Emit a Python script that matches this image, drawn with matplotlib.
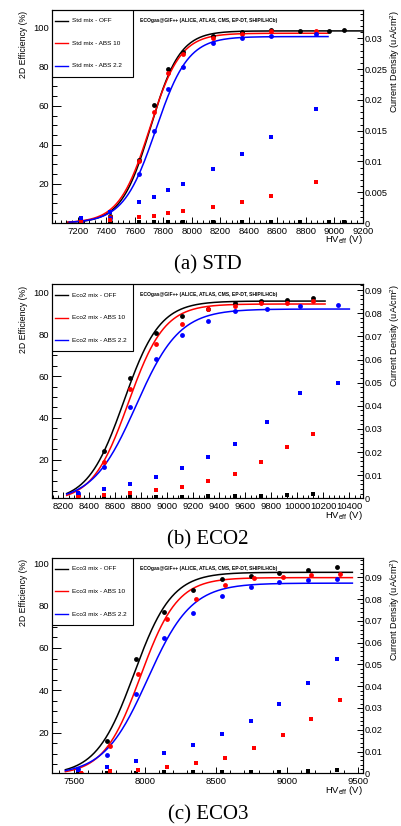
import numpy as np
import matplotlib
matplotlib.use('Agg')
import matplotlib.pyplot as plt
from matplotlib.ticker import MultipleLocator, FixedLocator
from matplotlib.patches import Rectangle
from matplotlib.lines import Line2D

plt.rcParams['font.family'] = ['Liberation Sans', 'DejaVu Sans']
plt.rcParams['mathtext.fontset'] = 'custom'
plt.rcParams['mathtext.rm'] = 'Liberation Sans'

title = 'ECOgas@GIF++ (ALICE, ATLAS, CMS, EP-DT, SHIP/LHCb)'
conds = ['OFF', 'ABS 10', 'ABS 2.2']
colors = ['black', '#ff0000', '#0000ff']

# ---- (a) STD ----
std_hv_off = [7220, 7425, 7630, 7735, 7835, 7940, 8150, 8350, 8555, 8760, 8965, 9070]
std_hv_abs = [7220, 7425, 7630, 7735, 7835, 7940, 8150, 8350, 8555, 8870]
std_eff_off = [0.5, 3.5, 32.0, 60.2, 78.9, 87.7, 95.5, 97.6, 98.8, 98.5, 98.5, 98.8]
std_eff_abs10 = [0.3, 3.0, 31.6, 56.8, 77.0, 86.4, 94.5, 96.8, 98.0, 98.0]
std_eff_abs22 = [0.3, 2.5, 25.3, 46.9, 68.5, 79.7, 92.0, 94.9, 95.9, 96.6]
std_cur_off = [0.0001, 0.0001, 0.0001, 0.0001, 0.0001, 0.0001, 0.0001, 0.0001, 0.0001, 0.0001, 0.0001, 0.0001]
std_cur_abs10 = [0.0001, 0.0005, 0.0010, 0.0012, 0.0016, 0.0019, 0.0026, 0.0034, 0.0044, 0.0066]
std_cur_abs22 = [0.0008, 0.0018, 0.0034, 0.0043, 0.0053, 0.0064, 0.0087, 0.0112, 0.0139, 0.0185]
# fit: plateau, slope, HV50, curve start, curve end
std_fit_off = [98.3, 0.0097, 7711, 7130, 9210]
std_fit_abs10 = [97.1, 0.0093, 7705, 7130, 8956]
std_fit_abs22 = [95.4, 0.0088, 7747, 7140, 8956]

# ---- (b) ECO2 ----
eco2_hv_off = [8310, 8510, 8710, 8910, 9115, 9315, 9520, 9720, 9920, 10120]
eco2_hv_abs22 = [8310, 8510, 8710, 8910, 9115, 9315, 9520, 9770, 10020, 10310]
eco2_eff_off = [3.0, 24.0, 59.0, 80.5, 88.5, 92.0, 95.0, 95.8, 96.5, 97.2]
eco2_eff_abs10 = [2.5, 19.0, 54.0, 75.5, 85.0, 92.0, 93.5, 94.8, 95.0, 95.8]
eco2_eff_abs22 = [4.0, 16.5, 45.0, 68.0, 79.5, 86.5, 91.0, 92.0, 93.5, 93.8]
eco2_cur_off = [0.0003, 0.0004, 0.0005, 0.0006, 0.0007, 0.0008, 0.0009, 0.0011, 0.0014, 0.0017]
eco2_cur_abs10 = [0.0007, 0.0014, 0.0024, 0.0036, 0.0050, 0.0075, 0.0105, 0.0157, 0.0223, 0.0278]
eco2_cur_abs22 = [0.0022, 0.0039, 0.0062, 0.0094, 0.0132, 0.0177, 0.0235, 0.0331, 0.0456, 0.0497]
eco2_fit_off = [95.8, 0.0072, 8665, 8226, 10213]
eco2_fit_abs10 = [94.4, 0.0072, 8700, 8226, 10213]
eco2_fit_abs22 = [92.0, 0.0060, 8760, 8226, 10400]

# ---- (c) ECO3 ----
eco3_hv = [7530, 7735, 7935, 8135, 8340, 8545, 8745, 8945, 9150, 9350]
eco3_hv_abs10 = [7550, 7755, 7955, 8155, 8360, 8565, 8765, 8970, 9170, 9375]
eco3_eff_off = [1.5, 16.2, 54.6, 77.2, 87.4, 92.6, 94.0, 95.3, 96.9, 98.0]
eco3_eff_abs10 = [1.0, 13.7, 47.7, 73.5, 83.1, 89.6, 92.9, 93.7, 94.6, 95.1]
eco3_eff_abs22 = [2.8, 9.4, 38.3, 64.9, 76.7, 84.7, 88.7, 90.9, 92.1, 92.4]
eco3_cur_off = [0.0002, 0.0002, 0.0003, 0.0004, 0.0005, 0.0006, 0.0007, 0.0008, 0.0010, 0.0013]
eco3_cur_abs10 = [0.0003, 0.0011, 0.0017, 0.0031, 0.0049, 0.0072, 0.0114, 0.0175, 0.0249, 0.0337]
eco3_cur_abs22 = [0.0015, 0.0031, 0.0057, 0.0091, 0.0131, 0.0180, 0.0242, 0.0318, 0.0415, 0.0526]
eco3_fit_off = [95.7, 0.0075, 7925, 7442, 9460]
eco3_fit_abs10 = [93.2, 0.0077, 7970, 7442, 9460]
eco3_fit_abs22 = [90.6, 0.0065, 8020, 7442, 9460]


def sigmoid(fit):
    emax, lam, hv50, x0, x1 = fit
    x = np.linspace(x0, x1, 300)
    return x, emax / (1 + np.exp(-lam * (x - hv50)))


def panel(rect, mix, hvs, effs, curs, fits, xlim, ylim, ylim2,
          xmaj, xmin, ymaj2, ymin2, caption, cap_y):
    ax = fig.add_axes(rect)
    ax2 = ax.twinx()
    for i in range(3):
        x, y = sigmoid(fits[i])
        ax.plot(x, y, color=colors[i], lw=1.1, zorder=2)
        ax.plot(hvs[i], effs[i], 'o', color=colors[i], ms=3.5, mew=0, zorder=3)
        ax2.plot(hvs[i], curs[i], 's', color=colors[i], ms=3.2, mew=0)
    ax.set_xlim(xlim)
    ax.set_ylim(ylim)
    ax2.set_ylim(ylim2)

    ax.xaxis.set_major_locator(MultipleLocator(xmaj))
    ax.xaxis.set_minor_locator(MultipleLocator(xmin))
    ax.yaxis.set_major_locator(FixedLocator([20, 40, 60, 80, 100]))
    ax.yaxis.set_minor_locator(MultipleLocator(5))
    ax2.yaxis.set_major_locator(MultipleLocator(ymaj2))
    ax2.yaxis.set_minor_locator(MultipleLocator(ymin2))
    ax2.yaxis.set_major_formatter(lambda v, p: ('%g' % round(v, 4)))

    ax.tick_params(axis='x', which='major', direction='in', length=4.5, width=0.7,
                   labelsize=6.8, pad=3, top=False)
    ax.tick_params(axis='x', which='minor', direction='in', length=2.5, width=0.7, top=False)
    ax.tick_params(axis='y', which='major', direction='in', length=6.5, width=0.7,
                   labelsize=6.8, pad=2, right=False)
    ax.tick_params(axis='y', which='minor', direction='in', length=3.5, width=0.7, right=False)
    ax2.tick_params(axis='y', which='major', direction='in', length=4.5, width=0.7,
                    labelsize=6.6, pad=1.5, left=False)
    ax2.tick_params(axis='y', which='minor', direction='in', length=2.5, width=0.7, left=False)
    for a in (ax, ax2):
        for s in a.spines.values():
            s.set_linewidth(0.8)

    ax.set_ylabel('2D Efficiency (%)', fontsize=6.3)
    ax.yaxis.set_label_coords(-0.093, 0.995)
    ax.yaxis.label.set(ha='right', va='center')
    ax2.set_ylabel('Current Density (uA/cm$^{2}$)', fontsize=6.6)
    ax2.yaxis.set_label_coords(1.104, 1.0)
    ax2.yaxis.label.set(ha='right', va='center')
    ax.set_xlabel('HV$_{\\mathregular{eff}}$ (V)', fontsize=6.8)
    ax.xaxis.set_label_coords(1.0, -0.078)
    ax.xaxis.label.set(ha='right', va='center')

    ax.text(0.283, 0.962, title, transform=ax.transAxes, fontsize=3.6,
            fontweight='bold', va='top', ha='left')

    # legend box drawn in axes fractions
    w, h = 81 / 310.7, 67 / 214
    ax.add_patch(Rectangle((0, 1 - h), w, h, transform=ax.transAxes,
                           facecolor='white', edgecolor='black', lw=0.8, zorder=5))
    for i in range(3):
        yy = 1 - (11 + 22.5 * i) / 214
        ax.add_line(Line2D([3 / 310.7, 16 / 310.7], [yy, yy], transform=ax.transAxes,
                           color=colors[i], lw=1.0, zorder=6))
        ax.text(20 / 310.7, yy, mix + ' mix - ' + conds[i], transform=ax.transAxes,
                fontsize=4.6, va='center', ha='left', zorder=6)

    fig.text(0.518, cap_y, caption, fontsize=15, family='Liberation Serif',
             ha='center', va='center')


fig = plt.figure(figsize=(4.02, 8.26), dpi=100)

panel([0.1294, 0.730, 0.773, 0.2579], 'Std',
      [std_hv_off, std_hv_abs, std_hv_abs],
      [std_eff_off, std_eff_abs10, std_eff_abs22],
      [std_cur_off, std_cur_abs10, std_cur_abs22],
      [std_fit_off, std_fit_abs10, std_fit_abs22],
      (7019, 9200), (0, 109), (0, 0.0346), 200, 40, 0.005, 0.001,
      '(a) STD', 1 - 265 / 826)

panel([0.1294, 0.3967, 0.773, 0.2591], 'Eco2',
      [eco2_hv_off, eco2_hv_off, eco2_hv_abs22],
      [eco2_eff_off, eco2_eff_abs10, eco2_eff_abs22],
      [eco2_cur_off, eco2_cur_abs10, eco2_cur_abs22],
      [eco2_fit_off, eco2_fit_abs10, eco2_fit_abs22],
      (8113, 10503), (1.6, 103.8), (0, 0.0925), 200, 40, 0.01, 0.002,
      '(b) ECO2', 1 - 540 / 826)

panel([0.1294, 0.0638, 0.773, 0.261], 'Eco3',
      [eco3_hv, eco3_hv_abs10, eco3_hv],
      [eco3_eff_off, eco3_eff_abs10, eco3_eff_abs22],
      [eco3_cur_off, eco3_cur_abs10, eco3_cur_abs22],
      [eco3_fit_off, eco3_fit_abs10, eco3_fit_abs22],
      (7348, 9533), (0.8, 102.6), (0, 0.099), 500, 100, 0.01, 0.002,
      '(c) ECO3', 1 - 815 / 826)

plt.savefig('out.png', dpi=100)
